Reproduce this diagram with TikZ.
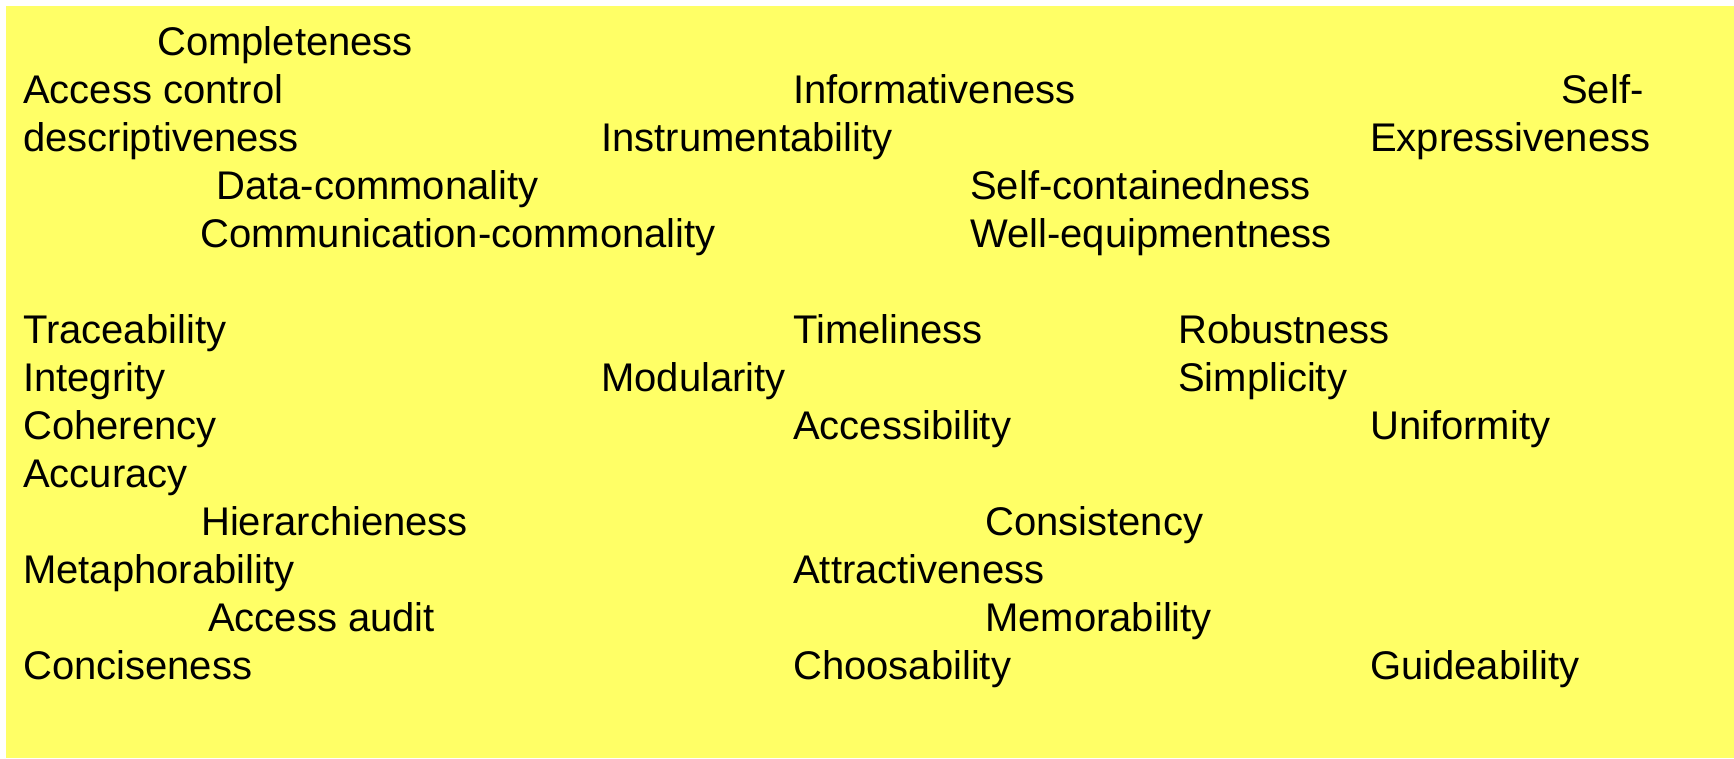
\documentclass[tikz,border=0pt]{standalone}
\usepackage{fontspec}
\setmainfont{Liberation Sans}
\definecolor{bgyellow}{HTML}{FFFF66}
\begin{document}
\begin{tikzpicture}[x=1pt,y=-1pt,
  term/.style={anchor=base west,inner sep=0pt,font=\fontsize{40pt}{48pt}\selectfont,text=black}]
\useasboundingbox (0,0) rectangle (1734,758);
\fill[white] (0,0) rectangle (1734,758);
\fill[bgyellow] (6,6) rectangle (1734,758);
\begin{scope}[xshift=-2pt]
\node[term] (n1) at (159,55) {Completeness};
\node[term] (n2) at (25,103) {Access control};
\node[term] (n3) at (795,103) {Informativeness};
\node[term] (n4) at (1563,103) {Self-};
\node[term] (n5) at (25,151) {descriptiveness};
\node[term] (n6) at (603,151) {Instrumentability};
\node[term] (n7) at (1372,151) {Expressiveness};
\node[term] (n8) at (218,199) {Data-commonality};
\node[term] (n9) at (972,199) {Self-containedness};
\node[term] (n10) at (202,247) {Communication-commonality};
\node[term] (n11) at (972,247) {Well-equipmentness};
\node[term] (n12) at (25,343) {Traceability};
\node[term] (n13) at (795,343) {Timeliness};
\node[term] (n14) at (1180,343) {Robustness};
\node[term] (n15) at (25,391) {Integrity};
\node[term] (n16) at (603,391) {Modularity};
\node[term] (n17) at (1180,391) {Simplicity};
\node[term] (n18) at (25,439) {Coherency};
\node[term] (n19) at (795,439) {Accessibility};
\node[term] (n20) at (1372,439) {Uniformity};
\node[term] (n21) at (25,487) {Accuracy};
\node[term] (n22) at (203,535) {Hierarchieness};
\node[term] (n23) at (987,535) {Consistency};
\node[term] (n24) at (25,583) {Metaphorability};
\node[term] (n25) at (795,583) {Attractiveness};
\node[term] (n26) at (210,631) {Access audit};
\node[term] (n27) at (987,631) {Memorability};
\node[term] (n28) at (25,679) {Conciseness};
\node[term] (n29) at (795,679) {Choosability};
\node[term] (n30) at (1372,679) {Guideability};
\end{scope}
\end{tikzpicture}
\end{document}
